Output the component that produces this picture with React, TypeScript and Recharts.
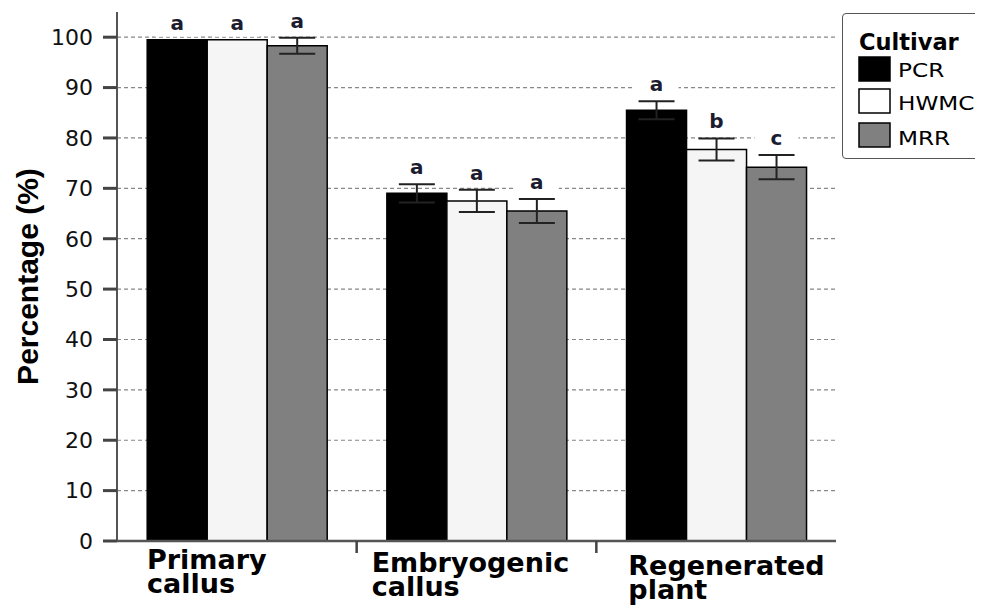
import React from "react";
import {
  BarChart,
  Bar,
  XAxis,
  YAxis,
  CartesianGrid,
  ErrorBar,
  LabelList,
} from "recharts";

const categories = ["Primary callus", "Embryogenic callus", "Regenerated plant"];
const cultivars = ["PCR", "HWMC", "MRR"];

const pcrValues = [99.5, 69, 85.5];
const pcrErrors = [0, 1.8, 1.8];
const pcrLetters = ["a", "a", "a"];

const hwmcValues = [99.5, 67.5, 77.7];
const hwmcErrors = [0, 2.2, 2.2];
const hwmcLetters = ["a", "a", "b"];

const mrrValues = [98.3, 65.5, 74.2];
const mrrErrors = [1.6, 2.4, 2.4];
const mrrLetters = ["a", "a", "c"];

const yTicks = [0, 10, 20, 30, 40, 50, 60, 70, 80, 90, 100];
const yMax = 105;

const data = categories.map((category, i) => ({
  category,
  PCR: pcrValues[i],
  PCR_err: pcrErrors[i],
  PCR_letter: pcrLetters[i],
  HWMC: hwmcValues[i],
  HWMC_err: hwmcErrors[i],
  HWMC_letter: hwmcLetters[i],
  MRR: mrrValues[i],
  MRR_err: mrrErrors[i],
  MRR_letter: mrrLetters[i],
}));

const fills: Record<string, string> = {
  PCR: "#000000",
  HWMC: "#f5f5f5",
  MRR: "#808080",
};

const W = 975;
const H = 598;
const margin = { top: 4, right: 147, left: 49, bottom: 5 };
const yAxisWidth = 60;
const xAxisHeight = 60;
const band = (W - margin.left - margin.right - yAxisWidth) / categories.length;

// per-category label placement (left offset within band, extra drop)
const labelDx = [30, 15, 32];
const labelDy = [0, 3, 6];

// skip the grid row at the very top of the plot (above the 100 tick)
const GridRow = (props: any) => {
  const { x1, y1, x2, y2 } = props;
  if (Number(y1) < margin.top + 5) return <g />;
  return (
    <line
      x1={x1}
      y1={y1}
      x2={x2}
      y2={y2}
      stroke="#888"
      strokeWidth={1.2}
      strokeDasharray="4 3"
      fill="none"
    />
  );
};

const XTick = (props: any) => {
  const { x, y, payload } = props;
  const i = payload.index;
  const left = x - band / 2;
  const words = String(payload.value).split(" ");
  return (
    <g>
      {i > 0 && (
        <line x1={left} y1={y} x2={left} y2={y + 12} stroke="#444" strokeWidth={2.5} />
      )}
      <text
        x={left + labelDx[i]}
        y={y + 28 + labelDy[i]}
        fontFamily="DejaVu Sans"
        fontWeight="bold"
        fontSize={27}
        fill="#000"
      >
        <tspan x={left + labelDx[i]}>{words[0]}</tspan>
        <tspan x={left + labelDx[i]} dy={24}>
          {words.slice(1).join(" ")}
        </tspan>
      </text>
    </g>
  );
};

const letterLabel = (key: string) => (props: any) => {
  const { x, y, width, height, value, index } = props;
  const row: any = data[index];
  const v = row[key];
  const err = row[key + "_err"];
  const pxPerUnit = Number(height) / v;
  const errTop = Number(y) - err * pxPerUnit;
  const base = errTop - 10;
  const cx = Number(x) + Number(width) / 2;
  return (
    <g>
      <rect x={cx - 22} y={base - 17} width={44} height={24} fill="#fff" />
      <text
        x={cx}
        y={base}
        textAnchor="middle"
        fontFamily="DejaVu Sans"
        fontWeight="bold"
        fontSize={20}
        fill="#1c1c30"
      >
        {value}
      </text>
    </g>
  );
};

const YLabel = (props: any) => {
  const vb = props.viewBox || {};
  const cx = 30;
  const cy = vb.y + vb.height / 2;
  return (
    <text
      transform={`translate(${cx},${cy}) rotate(-90)`}
      textAnchor="middle"
      fontFamily="Liberation Sans"
      fontWeight="bold"
      fontSize={30}
      fill="#000"
    >
      Percentage (%)
    </text>
  );
};

const swatchY = [44, 76, 110];
const textY = [64, 97, 132];

export default function App() {
  return (
    <div style={{ position: "relative", width: W, height: H, overflow: "hidden" }}>
      <BarChart
        width={W}
        height={H}
        data={data}
        margin={margin}
        barCategoryGap="12.6%"
        barGap={0}
      >
        <CartesianGrid
          vertical={false}
          horizontal={GridRow}
          syncWithTicks
          stroke="#888"
          strokeDasharray="4 3"
          strokeWidth={1.2}
        />
        <XAxis
          dataKey="category"
          height={xAxisHeight}
          tick={<XTick />}
          tickLine={false}
          tickSize={0}
          tickMargin={0}
          interval={0}
          axisLine={{ stroke: "#555", strokeWidth: 2.5 }}
        />
        <YAxis
          width={yAxisWidth}
          domain={[0, yMax]}
          ticks={yTicks}
          interval={0}
          tickSize={14}
          tickMargin={10}
          tickLine={{ stroke: "#444", strokeWidth: 3 }}
          axisLine={{ stroke: "#555", strokeWidth: 2 }}
          tick={{ fill: "#111", fontSize: 22, fontFamily: "DejaVu Sans" }}
          label={<YLabel />}
        />
        {cultivars.map((c) => (
          <Bar
            key={c}
            dataKey={c}
            fill={fills[c]}
            stroke="#000"
            strokeWidth={1.5}
            isAnimationActive={false}
          >
            <ErrorBar
              dataKey={c + "_err"}
              width={18}
              stroke="#222"
              strokeWidth={2}
              isAnimationActive={false}
            />
            <LabelList dataKey={c + "_letter"} content={letterLabel(c)} />
          </Bar>
        ))}
      </BarChart>
      <div
        style={{
          position: "absolute",
          left: 834,
          top: 5,
          width: 170,
          height: 146,
          border: "1.5px solid #555",
          borderRadius: 4,
          background: "#fff",
          boxSizing: "border-box",
        }}
      >
        <svg width={170} height={146} style={{ position: "absolute", left: -1.5, top: -1.5 }}>
          <text x={17} y={37} fontFamily="DejaVu Sans" fontWeight="bold" fontSize={22.5} fill="#000">
            Cultivar
          </text>
          {cultivars.map((c, i) => (
            <g key={c}>
              <rect
                x={17}
                y={swatchY[i]}
                width={31}
                height={24}
                fill={fills[c] === "#f5f5f5" ? "#fff" : fills[c]}
                stroke="#000"
                strokeWidth={1.5}
              />
              <text
                transform={`translate(56,${textY[i]}) scale(1.22,1)`}
                fontFamily="DejaVu Sans"
                fontSize={19}
                fill="#000"
              >
                {c}
              </text>
            </g>
          ))}
        </svg>
      </div>
    </div>
  );
}
